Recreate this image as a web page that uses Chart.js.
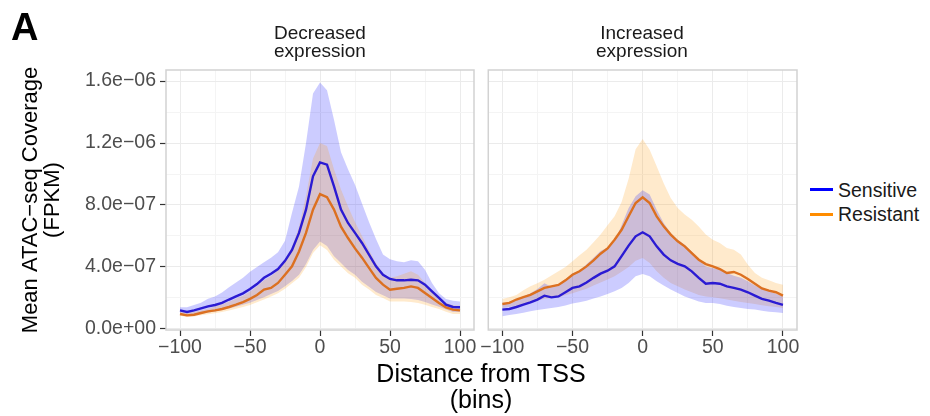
<!DOCTYPE html>
<html>
<head>
<meta charset="utf-8">
<script src="https://cdn.jsdelivr.net/npm/chart.js@4.4.0/dist/chart.umd.min.js"></script>
<style>
html,body{margin:0;padding:0;background:#fff;}
body{width:930px;height:416px;position:relative;overflow:hidden;font-family:'Liberation Sans',Arial,Helvetica,sans-serif;}
canvas{position:absolute;top:0;}
#c1{left:0;}
#c2{left:480px;}
.lbl{position:absolute;white-space:nowrap;}
#panelA{left:11px;top:8px;font-size:38px;font-weight:bold;line-height:38px;color:#000;}
.facet{width:220px;text-align:center;font-size:19px;line-height:18px;color:#1a1a1a;top:24px;}
#f1{left:210px;}
#f2{left:532px;}
#xt{left:331px;width:300px;text-align:center;top:360px;font-size:25px;line-height:26px;color:#000;}
.sw{position:absolute;left:810px;width:23px;height:2.5px;}
.legt{left:838px;font-size:19.5px;line-height:22px;color:#1a1a1a;}
</style>
</head>
<body>
<canvas id="c1" width="480" height="416"></canvas>
<canvas id="c2" width="330" height="416"></canvas>
<div class="lbl" id="panelA">A</div>
<div class="lbl facet" id="f1">Decreased<br>expression</div>
<div class="lbl facet" id="f2">Increased<br>expression</div>
<div class="lbl" id="xt">Distance from TSS<br>(bins)</div>
<div class="sw" style="top:188px;background:#0000ff"></div>
<div class="lbl legt" style="top:179px">Sensitive</div>
<div class="sw" style="top:213px;background:#ff8c00"></div>
<div class="lbl legt" style="top:203px">Resistant</div>
<script>
// x positions (bins from TSS)
const bins = [-100,-95,-90,-85,-80,-75,-70,-65,-60,-55,-50,-45,-40,-35,-30,-25,-20,-15,-10,-5,0,5,10,15,20,25,30,35,40,45,50,55,60,65,70,75,80,85,90,95,100];

// values in units of 1e-7 FPKM
// Decreased expression panel
const decSensMean = [1.2,1.1,1.2,1.33,1.46,1.55,1.68,1.9,2.1,2.3,2.58,2.9,3.3,3.57,3.87,4.4,5.1,6.2,7.7,9.85,10.75,10.6,9.2,7.7,6.84,6.2,5.55,4.8,4.04,3.5,3.23,3.14,3.14,3.18,3.14,2.86,2.43,2.0,1.57,1.42,1.4];
const decSensHi   = [1.4,1.4,1.55,1.7,1.95,2.1,2.35,2.7,3.0,3.3,3.7,4.0,4.3,4.6,4.95,5.7,7.5,9.2,12.0,15.2,15.9,15.4,13.5,11.4,10.3,9.3,8.1,6.9,5.8,4.8,4.5,4.37,4.3,4.43,4.37,3.83,2.97,2.3,1.94,1.83,1.78];
const decSensLo   = [0.95,0.88,0.9,0.98,1.05,1.13,1.22,1.32,1.43,1.56,1.7,1.87,2.05,2.25,2.45,2.75,3.1,3.5,4.2,5.1,5.65,5.35,4.7,4.25,3.8,3.5,3.05,2.72,2.38,2.18,1.97,1.97,1.97,1.93,1.87,1.74,1.58,1.43,1.25,1.1,1.1];
const decResMean  = [0.97,0.88,0.92,1.03,1.14,1.2,1.29,1.42,1.57,1.74,1.94,2.19,2.54,2.65,2.97,3.5,4.04,5.0,6.2,7.7,8.7,8.5,7.7,6.6,5.87,5.2,4.6,3.94,3.3,2.86,2.54,2.6,2.65,2.75,2.65,2.32,2.0,1.68,1.4,1.25,1.2];
const decResHi    = [1.1,1.05,1.1,1.2,1.3,1.45,1.6,1.75,1.95,2.15,2.4,2.75,3.15,3.4,3.8,4.4,5.3,6.6,8.6,11.0,12.0,11.8,10.3,9.0,7.9,6.9,6.0,5.1,4.26,3.6,3.3,3.4,3.57,3.72,3.5,2.97,2.43,2.0,1.68,1.53,1.5];
const decResLo    = [0.85,0.78,0.8,0.88,0.95,1.02,1.1,1.2,1.3,1.42,1.55,1.72,1.9,2.1,2.3,2.6,2.95,3.3,4.0,4.9,5.4,5.1,4.47,4.04,3.6,3.3,2.86,2.54,2.2,2.0,1.78,1.78,1.78,1.74,1.68,1.57,1.42,1.29,1.12,0.97,0.97];

// Increased expression panel
const incSensMean = [1.25,1.29,1.42,1.57,1.72,1.9,2.15,2.04,2.1,2.37,2.65,2.75,3.0,3.3,3.57,3.76,4.04,4.7,5.38,5.98,6.24,5.98,5.33,4.8,4.43,4.2,4.04,3.72,3.3,2.92,2.97,2.92,2.75,2.65,2.54,2.37,2.15,1.94,1.83,1.68,1.55];
const incSensHi   = [1.68,1.7,1.87,2.09,2.3,2.58,2.95,2.73,2.78,3.17,3.6,3.75,4.17,4.6,5.04,5.26,5.65,6.7,7.8,8.56,8.95,8.67,7.7,6.84,6.2,5.76,5.44,5.0,4.47,4.04,3.94,3.83,3.61,3.44,3.3,3.08,2.8,2.58,2.43,2.28,2.1];
const incSensLo   = [0.82,0.9,0.97,1.05,1.14,1.22,1.29,1.35,1.42,1.52,1.65,1.72,1.83,1.96,2.1,2.25,2.43,2.65,2.97,3.4,3.55,3.4,3.08,2.8,2.54,2.32,2.1,1.94,1.78,1.68,1.68,1.61,1.5,1.42,1.35,1.29,1.25,1.18,1.12,1.08,1.03];
const incResMean  = [1.61,1.68,1.9,2.06,2.2,2.43,2.65,2.75,2.84,3.14,3.5,3.72,4.04,4.43,4.86,5.2,5.76,6.4,7.27,8.13,8.5,8.13,7.27,6.62,6.09,5.66,5.33,4.9,4.47,4.19,4.04,3.87,3.61,3.68,3.5,3.23,2.92,2.62,2.47,2.37,2.15];
const incResHi    = [1.94,2.05,2.2,2.5,2.75,2.95,3.18,3.45,3.72,4.0,4.37,4.75,5.12,5.6,6.1,6.7,7.27,8.2,9.7,11.6,12.26,11.57,10.5,9.4,8.45,7.8,7.38,7.05,6.62,6.09,5.76,5.55,5.23,5.12,4.8,4.15,3.61,3.3,3.14,2.97,2.86];
const incResLo    = [1.35,1.42,1.5,1.6,1.7,1.82,1.95,2.0,2.05,2.18,2.3,2.45,2.6,2.8,3.0,3.2,3.4,3.7,4.0,4.4,4.58,4.26,3.72,3.3,2.97,2.75,2.54,2.37,2.2,2.1,2.04,1.98,1.9,1.83,1.74,1.68,1.61,1.53,1.46,1.42,1.35];

// axes
const xGridValues = [-100,-75,-50,-25,0,25,50,75,100];
const xTickValues = [-100,-50,0,50,100];
const xTickLabels = ['\u2212100','\u221250','0','50','100'];
const yGridValues = [0,2,4,6,8,10,12,14,16];
const yTickValues = [0,4,8,12,16];
const yTickLabels = ['0.0e+00','4.0e\u221207','8.0e\u221207','1.2e\u221206','1.6e\u221206'];
const yTitle = ['Mean ATAC\u2212seq Coverage','(FPKM)'];
const seriesNames = ['Sensitive','Resistant'];

const FONT = "'Liberation Sans', Arial, Helvetica, sans-serif";
Chart.defaults.font.family = FONT;

const SENS_LINE = '#2b1bd3';
const RES_LINE = '#dc7020';
const SENS_FILL = 'rgba(0,0,255,0.2)';
const RES_FILL = 'rgba(255,150,0,0.2)';

function pts(arr){ return arr.map((v,i)=>({x:bins[i], y:v})); }
function lineDs(label, arr, color){
  return {label, data: pts(arr), borderColor: color, borderWidth: 2.4, pointRadius: 0, fill: false, tension: 0};
}
function bandDs(hi, lo, color){
  return [
    {label:'hi', data: pts(hi), borderColor:'rgba(0,0,0,0)', borderWidth:0, pointRadius:0, backgroundColor: color, fill:'+1'},
    {label:'lo', data: pts(lo), borderColor:'rgba(0,0,0,0)', borderWidth:0, pointRadius:0, fill:false}
  ];
}
function isIn(arr, v){ return arr.some(a => Math.abs(a - v) < 1e-9); }

const panelBorder = {
  id:'panelBorder',
  afterDatasetsDraw(chart){
    const {ctx, chartArea:a} = chart;
    ctx.save();
    ctx.strokeStyle = '#d2d2d2';
    ctx.lineWidth = 1.5;
    ctx.strokeRect(a.left, a.top, a.right - a.left, a.bottom - a.top);
    ctx.restore();
  }
};

function xScale(){
  return {
    type:'linear', min:-110, max:110,
    afterBuildTicks: s => { s.ticks = xGridValues.map(v => ({value:v})); },
    afterFit: s => { s.height = 86; },
    ticks: {autoSkip:false, maxRotation:0, padding:0, color:'#4d4d4d', font:{size:19.5},
      callback: v => { const i = xTickValues.findIndex(t => Math.abs(t - v) < 1e-9); return i >= 0 ? xTickLabels[i] : ''; }},
    grid: {
      color: c => (c.tick && isIn(xTickValues, c.tick.value)) ? '#ebebeb' : '#f4f4f4',
      tickColor: c => (c.tick && isIn(xTickValues, c.tick.value)) ? '#333333' : 'rgba(0,0,0,0)',
      tickLength: 6, tickWidth: 1.2, lineWidth: 1
    },
    border: {display:false}
  };
}
function yScale(withLabels){
  const s = {
    type:'linear', min:-0.065, max:16.71,
    afterBuildTicks: sc => { sc.ticks = yGridValues.map(v => ({value:v})); },
    afterFit: sc => { sc.width = withLabels ? 166 : 8; },
    grid: {
      color: c => (c.tick && isIn(yTickValues, c.tick.value)) ? '#ebebeb' : '#f4f4f4',
      tickColor: c => (c.tick && isIn(yTickValues, c.tick.value)) ? '#333333' : 'rgba(0,0,0,0)',
      tickLength: 6, tickWidth: 1.2, lineWidth: 1, drawTicks: withLabels
    },
    border: {display:false}
  };
  if (withLabels) {
    s.ticks = {autoSkip:false, padding:4, color:'#4d4d4d', font:{size:19.5},
      callback: v => { const i = yTickValues.findIndex(t => Math.abs(t - v) < 1e-9); return i >= 0 ? yTickLabels[i] : ''; }};
    s.title = {display:true, text:yTitle, color:'#000', font:{size:22, lineHeight:1.0}, padding:{top:20, bottom:0}};
  } else {
    s.ticks = {display:false};
  }
  return s;
}

function makeChart(id, datasets, withLabels, padRight){
  return new Chart(document.getElementById(id), {
    type:'line',
    data:{datasets},
    options:{
      responsive:false, animation:false, devicePixelRatio:1, events:[],
      layout:{padding:{left:0, right:padRight, top:70, bottom:0}},
      plugins:{legend:{display:false}, tooltip:{enabled:false}, title:{display:false}},
      scales:{x:xScale(), y:yScale(withLabels)}
    },
    plugins:[panelBorder]
  });
}

// Decreased: orange ribbon drawn over blue ribbon
makeChart('c1', [
  lineDs(seriesNames[0], decSensMean, SENS_LINE),
  lineDs(seriesNames[1], decResMean, RES_LINE),
  ...bandDs(decResHi, decResLo, RES_FILL),
  ...bandDs(decSensHi, decSensLo, SENS_FILL)
], true, 6);

// Increased: blue ribbon drawn over orange ribbon
makeChart('c2', [
  lineDs(seriesNames[0], incSensMean, SENS_LINE),
  lineDs(seriesNames[1], incResMean, RES_LINE),
  ...bandDs(incSensHi, incSensLo, SENS_FILL),
  ...bandDs(incResHi, incResLo, RES_FILL)
], false, 13);
</script>
</body>
</html>
